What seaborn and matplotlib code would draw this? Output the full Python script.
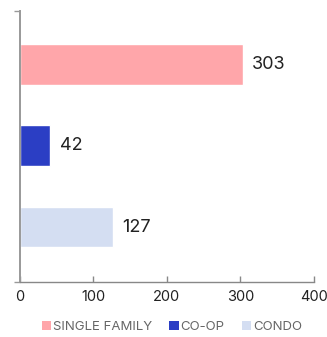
import matplotlib
matplotlib.use("Agg")
import matplotlib.pyplot as plt
from matplotlib.patches import Patch
import seaborn as sns
import pandas as pd

categories = ["SINGLE FAMILY", "CO-OP", "CONDO"]
values = [303, 42, 127]
colors = ["#FFA6AA", "#2B3EC4", "#D4DEF2"]
x_ticks = [0, 100, 200, 300, 400]

sns.set_style("white")
plt.rcParams["font.family"] = ["Inter", "DejaVu Sans"]

df = pd.DataFrame({"type": categories, "count": values})

fig = plt.figure(figsize=(3.27, 3.37), dpi=100)
ax = fig.add_axes([19.5 / 327, 1 - 282 / 337, (314 - 19.5) / 327, (282 - 11) / 337])

sns.barplot(data=df, y="type", x="count", hue="type", palette=colors,
            order=categories, hue_order=categories, width=0.5,
            dodge=False, legend=False, ax=ax, saturation=1)

for i, v in enumerate(values):
    ax.text(v + 13, i, str(v), va="center", ha="left", fontsize=13, color="#222222")

ax.set_xlim(0, 400)
ax.set_ylim(2.676, -0.657)
ax.set_xticks(x_ticks)
ax.set_xticklabels([str(t) for t in x_ticks], fontsize=10.5, color="#222222")
ax.set_yticks([])
ax.set_yticks([2.676, -0.657], minor=True)
ax.tick_params(axis="y", which="minor", left=True, length=4, width=1, color="#999999", direction="out")
ax.tick_params(axis="x", bottom=True, length=4, width=1, color="#888888", direction="in", pad=6)
ax.set_xlabel("")
ax.set_ylabel("")

for s in ["top", "right"]:
    ax.spines[s].set_visible(False)
ax.spines["left"].set_color("#999999")
ax.spines["left"].set_linewidth(1.4)
ax.spines["bottom"].set_color("#888888")
ax.spines["bottom"].set_linewidth(1)

handles = [Patch(facecolor=c, edgecolor="none") for c in colors]
fig.legend(handles, categories, loc="center", bbox_to_anchor=(172 / 327, 1 - 327 / 337),
           ncol=3, frameon=False, fontsize=9.5, handlelength=0.7, handleheight=0.7,
           handletextpad=0.15, columnspacing=1.3, labelcolor="#666666")

fig.savefig("out.png", dpi=100)
